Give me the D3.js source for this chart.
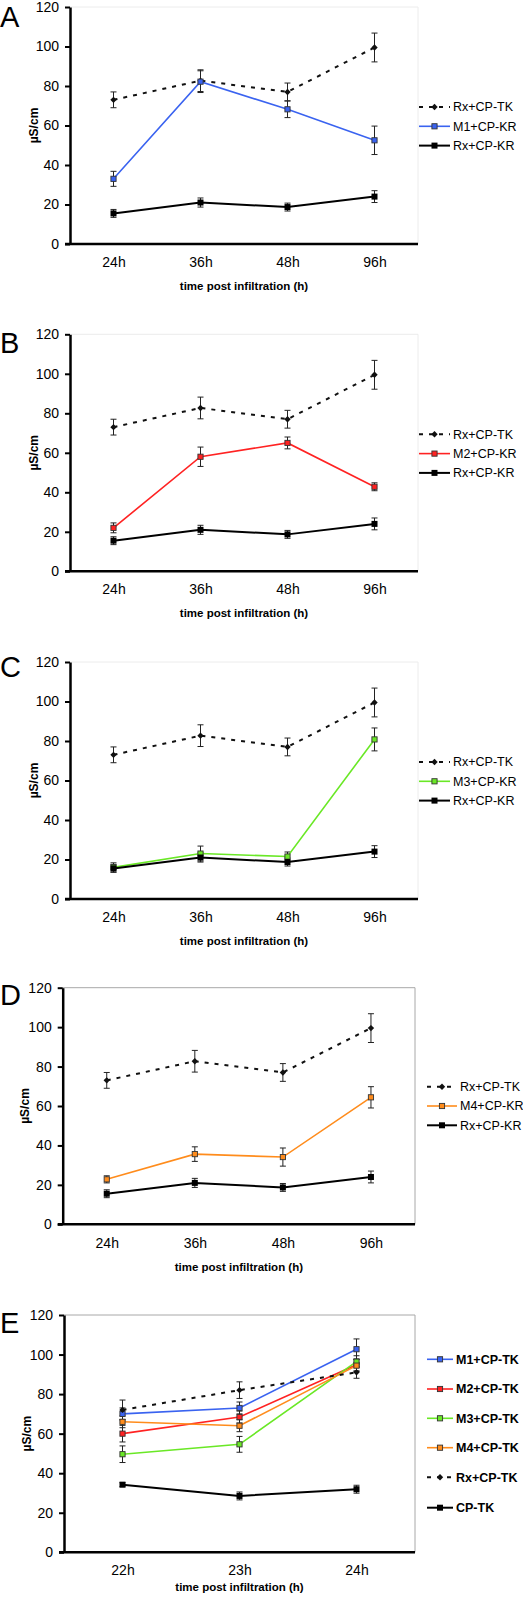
<!DOCTYPE html>
<html><head><meta charset="utf-8">
<script src="https://cdn.jsdelivr.net/npm/d3@7"></script>
<style>
html,body{margin:0;padding:0;background:#fff;}
svg{display:block;font-family:"Liberation Sans",Arial,sans-serif;}
</style></head>
<body>
<svg id="chart" width="523" height="1599"></svg>
<script>
// ---------- data ----------
const catsLong = ["24h", "36h", "48h", "96h"];
const catsShort = ["22h", "23h", "24h"];
const yTicks = [0, 20, 40, 60, 80, 100, 120];

const rxTK    = [73, 82.7, 77, 99.5];   const rxTKErr  = [4, 5.5, 4.5, 7.3];
const rxKR    = [15.5, 21, 18.7, 24];   const rxKRErr  = [2, 2.3, 2, 3];
const m1KR    = [33, 82.2, 68.2, 52.5]; const m1KRErr  = [3.8, 5.5, 4.2, 7.2];
const m2KR    = [22, 58, 65, 42.8];     const m2KRErr  = [2.5, 4.9, 3, 2];
const m3KR    = [16, 23, 21.5, 80.8];   const m3KRErr  = [2.3, 3.8, 2.3, 5.8];
const m4KR    = [22.8, 35.6, 34.1, 64.4]; const m4KRErr = [1.8, 3.7, 4.6, 5.4];

const m1TK    = [70, 73, 102.7];  const m1TKErr  = [3, 3, 5.2];
const m2TK    = [60, 68.4, 94.8]; const m2TKErr  = [4.2, 3, 3];
const m3TK    = [49.6, 54.6, 96.4]; const m3TKErr = [4.2, 4, 3];
const m4TK    = [66, 64, 94.4];   const m4TKErr  = [3, 3, 3];
const rxTKE   = [72, 82, 91];     const rxTKEErr = [5, 4.2, 3];
const cpTK    = [34.2, 28.5, 31.9]; const cpTKErr = [1, 2, 2];

const seriesNames = {
  rxTK: "Rx+CP-TK", rxKR: "Rx+CP-KR", m1KR: "M1+CP-KR", m2KR: "M2+CP-KR",
  m3KR: "M3+CP-KR", m4KR: "M4+CP-KR", m1TK: "M1+CP-TK", m2TK: "M2+CP-TK",
  m3TK: "M3+CP-TK", m4TK: "M4+CP-TK", cpTK: "CP-TK"
};
const xTitle = "time post infiltration (h)";
const yTitle = "µS/cm";

// ---------- styles ----------
const COL = {blue: "#3a63f0", red: "#ff2222", green: "#6ae826", orange: "#ff8c1c", black: "#000"};
const sDash  = (name, vals, err) => ({name, vals, err, color: "#111", dash: "4,6", width: 2, marker: "diamond"});
const sBlack = (name, vals, err) => ({name, vals, err, color: "#000", dash: null, width: 2, marker: "bigsquare"});
const sCol   = (name, vals, err, c) => ({name, vals, err, color: c, dash: null, width: 1.6, marker: "square"});

const svg = d3.select("#chart");

function panel(o) {
  const g = svg.append("g");
  const y = d3.scaleLinear().domain([0, 120]).range([o.bottom, o.top]);
  const x = d3.scalePoint().domain(o.cats).range([o.left, o.right]).padding(0.5);

  // plot-area frame (top + right)
  g.append("path")
    .attr("d", `M${o.left},${o.top}H${o.right}V${o.bottom}`)
    .attr("fill", "none").attr("stroke", o.frame).attr("stroke-width", 1);

  // y axis
  const ya = g.append("g").attr("transform", `translate(${o.left},0)`)
    .call(d3.axisLeft(y).tickValues(yTicks).tickSize(5).tickPadding(6).tickSizeOuter(0));
  ya.select(".domain").attr("stroke", "#000").attr("stroke-width", 2.5);
  ya.selectAll(".tick line").attr("stroke", "#000").attr("stroke-width", 2);
  ya.selectAll(".tick text").attr("font-size", 14).attr("fill", "#000")
    .attr("font-family", "Liberation Sans, Arial, sans-serif");

  // x axis
  const xa = g.append("g").attr("transform", `translate(0,${o.bottom})`)
    .call(d3.axisBottom(x).tickSize(0).tickPadding(o.xPad).tickSizeOuter(0));
  xa.select(".domain").attr("stroke", "#000").attr("stroke-width", 2.5)
    .attr("d", `M${o.left - 5},0H${o.right}`);
  xa.selectAll(".tick text").attr("font-size", 14).attr("fill", "#000")
    .attr("font-family", "Liberation Sans, Arial, sans-serif");

  // titles
  g.append("text").attr("x", (o.left + o.right) / 2).attr("y", o.bottom + o.titleOff)
    .attr("text-anchor", "middle").attr("font-size", 11.5).attr("font-weight", "bold")
    .text(xTitle);
  g.append("text").attr("transform", `translate(${o.yTitleX},${(o.top + o.bottom) / 2}) rotate(-90)`)
    .attr("text-anchor", "middle").attr("font-size", 12).attr("font-weight", "bold")
    .attr("dy", "0.35em").text(yTitle);

  // letter
  g.append("text").attr("x", 0).attr("y", o.letterY).attr("font-size", 29).text(o.letter);

  const line = d3.line().x((d, i) => x(o.cats[i])).y(d => y(d));

  o.series.forEach(s => {
    // error bars
    s.vals.forEach((v, i) => {
      const cx = x(o.cats[i]);
      const y1 = y(v + s.err[i]), y2 = y(v - s.err[i]);
      g.append("path").attr("d", `M${cx},${y1}V${y2}M${cx - 3},${y1}H${cx + 3}M${cx - 3},${y2}H${cx + 3}`)
        .attr("stroke", "#222").attr("stroke-width", 1).attr("fill", "none");
    });
  });
  o.series.forEach(s => {
    g.append("path").datum(s.vals).attr("d", line).attr("fill", "none")
      .attr("stroke", s.color).attr("stroke-width", s.width)
      .attr("stroke-dasharray", s.dash);
    s.vals.forEach((v, i) => drawMarker(g, s, x(o.cats[i]), y(v)));
  });

  // legend
  o.series.forEach((s, k) => {
    const ly = o.legYs[k];
    g.append("line").attr("x1", o.legX1).attr("x2", o.legX2).attr("y1", ly).attr("y2", ly)
      .attr("stroke", s.color).attr("stroke-width", s.width).attr("stroke-dasharray", s.dash);
    drawMarker(g, s, (o.legX1 + o.legX2) / 2, ly);
    g.append("text").attr("x", o.legTX).attr("y", ly).attr("dy", "0.35em")
      .attr("font-size", 12.5).attr("font-weight", o.legBold ? "bold" : "normal")
      .text(s.name);
  });
}

function drawMarker(g, s, cx, cy) {
  if (s.marker === "diamond") {
    g.append("path").attr("d", `M${cx},${cy - 3.2}L${cx + 3.2},${cy}L${cx},${cy + 3.2}L${cx - 3.2},${cy}Z`)
      .attr("fill", "#111");
  } else if (s.marker === "bigsquare") {
    g.append("rect").attr("x", cx - 3).attr("y", cy - 3).attr("width", 6).attr("height", 6).attr("fill", "#000");
  } else {
    g.append("rect").attr("x", cx - 2.6).attr("y", cy - 2.6).attr("width", 5.2).attr("height", 5.2)
      .attr("fill", s.color).attr("stroke", "#333").attr("stroke-width", 0.9);
  }
}

function abc(letter, top, mSeries, letterY) {
  panel({
    letter, letterY, top, bottom: top + 237, left: 70, right: 418, cats: catsLong,
    frame: "#ececec", xPad: 13, titleOff: 46, yTitleX: 34,
    series: [sDash(seriesNames.rxTK, rxTK, rxTKErr), mSeries, sBlack(seriesNames.rxKR, rxKR, rxKRErr)],
    legX1: 419, legX2: 450, legTX: 453, legYs: [top + 100, top + 119.3, top + 138.6], legBold: false
  });
}
abc("A", 7, sCol(seriesNames.m1KR, m1KR, m1KRErr, COL.blue), 27);
abc("B", 334.3, sCol(seriesNames.m2KR, m2KR, m2KRErr, COL.red), 353);
abc("C", 662, sCol(seriesNames.m3KR, m3KR, m3KRErr, COL.green), 677);

panel({
  letter: "D", letterY: 1005, top: 987.7, bottom: 1224.3, left: 62.7, right: 415, cats: catsLong,
  frame: "#a8a8a8", xPad: 14, titleOff: 47, yTitleX: 25,
  series: [sDash(seriesNames.rxTK, rxTK, rxTKErr), sCol(seriesNames.m4KR, m4KR, m4KRErr, COL.orange),
           sBlack(seriesNames.rxKR, rxKR, rxKRErr)],
  legX1: 427, legX2: 457, legTX: 460, legYs: [1086.7, 1106, 1125.3], legBold: false
});

panel({
  letter: "E", letterY: 1333, top: 1315, bottom: 1552.3, left: 64, right: 415, cats: catsShort,
  frame: "#a8a8a8", xPad: 13, titleOff: 39, yTitleX: 27,
  series: [sCol(seriesNames.m1TK, m1TK, m1TKErr, COL.blue), sCol(seriesNames.m2TK, m2TK, m2TKErr, COL.red),
           sCol(seriesNames.m3TK, m3TK, m3TKErr, COL.green), sCol(seriesNames.m4TK, m4TK, m4TKErr, COL.orange),
           sDash(seriesNames.rxTK, rxTKE, rxTKEErr), sBlack(seriesNames.cpTK, cpTK, cpTKErr)],
  legX1: 427, legX2: 453, legTX: 456, legYs: [1359.3, 1389, 1418.3, 1447.7, 1477.3, 1507.7], legBold: true
});
</script>
</body></html>
